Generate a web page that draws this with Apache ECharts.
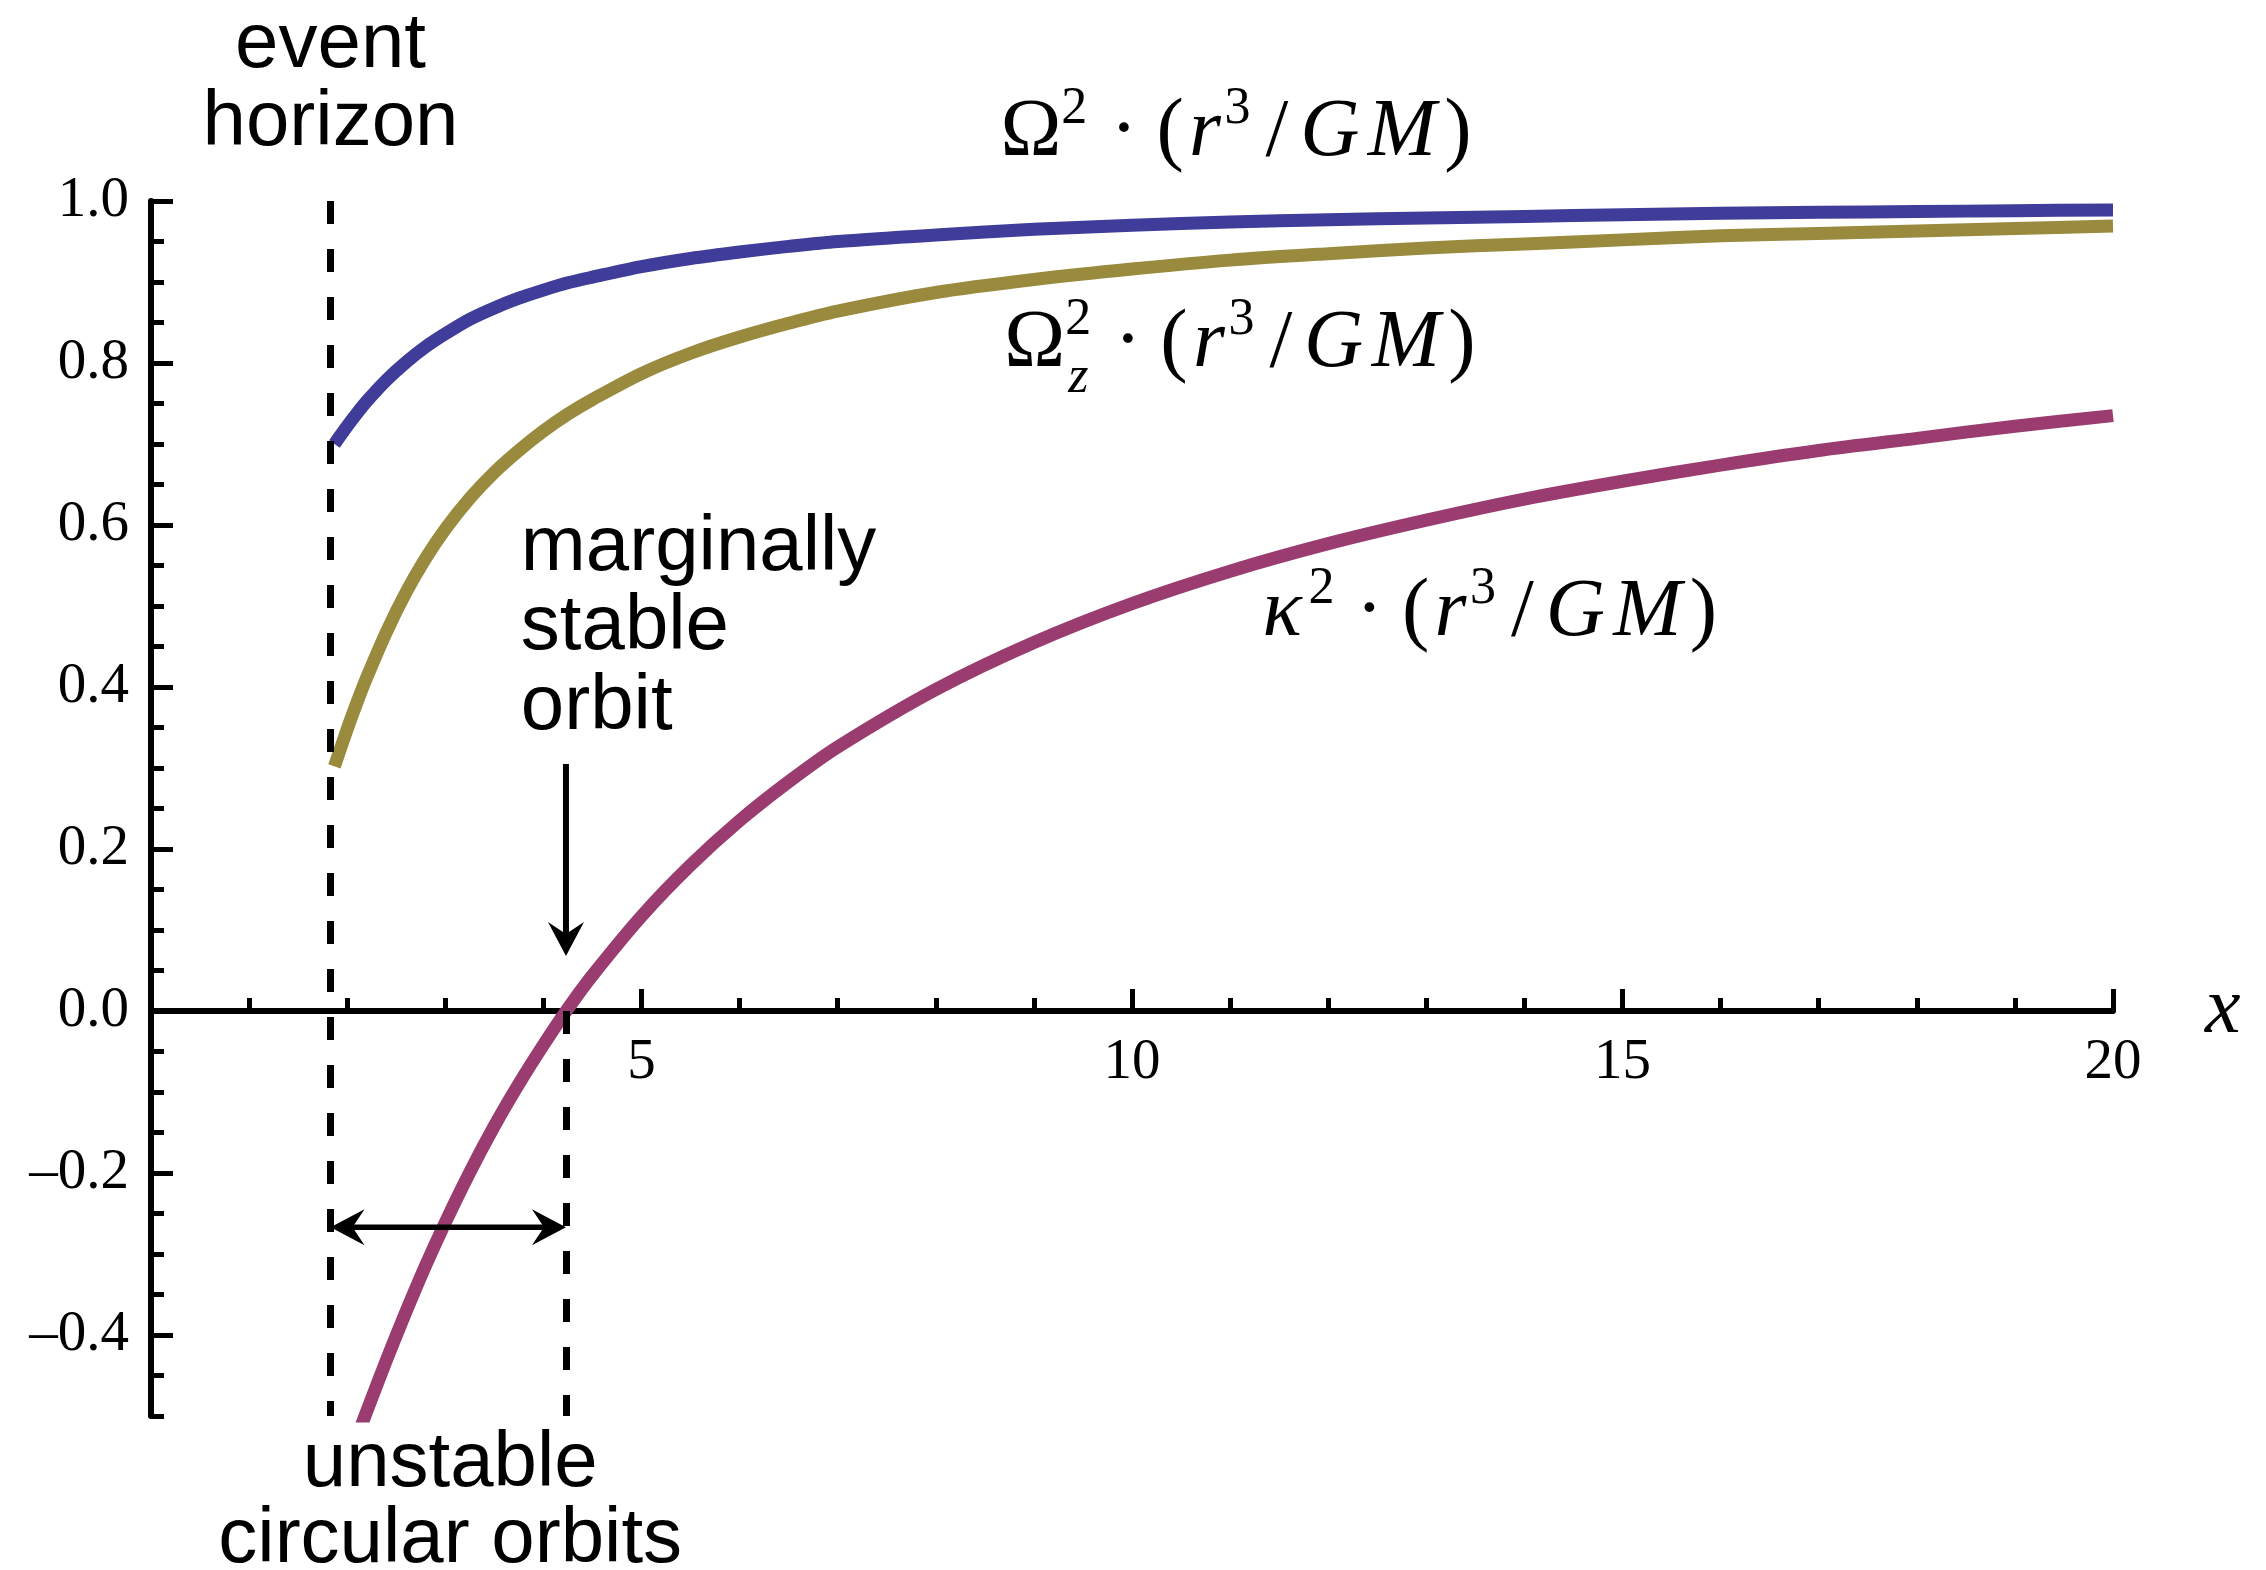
<!DOCTYPE html>
<html>
<head>
<meta charset="utf-8">
<script src="https://cdn.jsdelivr.net/npm/echarts@6/dist/echarts.min.js"></script>
<style>
  html, body { margin: 0; padding: 0; background: #ffffff; }
  #chart { width: 2266px; height: 1570px; }
</style>
</head>
<body>
<div id="chart"></div>
<script>
// Orbital frequencies around a rotating black hole, in units of GM/r^3, versus x = r/(GM/c^2)
const rOmega = [1.87, 2.0, 2.1, 2.2, 2.4, 2.6, 2.8, 3.0, 3.25, 3.5, 3.75, 4.0, 4.25, 4.5, 5, 5.5, 6, 6.5, 7, 8, 9, 10, 11, 12, 13, 14, 15, 16, 17, 18, 19, 20];
const omega2 = [0.700, 0.722, 0.738, 0.753, 0.779, 0.801, 0.820, 0.836, 0.854, 0.868, 0.880, 0.890, 0.899, 0.906, 0.919, 0.929, 0.937, 0.944, 0.950, 0.958, 0.965, 0.970, 0.974, 0.977, 0.979, 0.981, 0.983, 0.985, 0.986, 0.987, 0.988, 0.989];
const omegaZ2 = [0.302, 0.348, 0.381, 0.412, 0.468, 0.517, 0.559, 0.595, 0.633, 0.665, 0.692, 0.716, 0.737, 0.755, 0.787, 0.812, 0.832, 0.849, 0.864, 0.887, 0.903, 0.916, 0.927, 0.935, 0.942, 0.947, 0.952, 0.957, 0.960, 0.963, 0.966, 0.969];
const rKappa = [2.1, 2.2, 2.4, 2.6, 2.8, 3.0, 3.25, 3.5, 3.75, 4.0, 4.25, 4.5, 5, 5.5, 6, 6.5, 7, 8, 9, 10, 11, 12, 13, 14, 15, 16, 17, 18, 19, 20];
const kappa2 = [-0.526, -0.494, -0.431, -0.371, -0.314, -0.261, -0.199, -0.142, -0.090, -0.042, 0.003, 0.044, 0.117, 0.180, 0.235, 0.283, 0.326, 0.397, 0.455, 0.503, 0.543, 0.577, 0.606, 0.632, 0.654, 0.674, 0.692, 0.707, 0.722, 0.735];

// Axis ranges and ticks
const xRange = [0, 20];
const yRange = [-0.5, 1.0];
const yMajorTicks = [-0.4, -0.2, 0.0, 0.2, 0.4, 0.6, 0.8, 1.0];
const yMinorTicks = [-0.5, -0.45, -0.4, -0.35, -0.3, -0.25, -0.2, -0.15, -0.1, -0.05, 0, 0.05, 0.1, 0.15, 0.2, 0.25, 0.3, 0.35, 0.4, 0.45, 0.5, 0.55, 0.6, 0.65, 0.7, 0.75, 0.8, 0.85, 0.9, 0.95, 1.0];

// Special radii
const rHorizon = 1.83;
const rMarginal = 4.23;
const unstableArrowLevel = -0.267;
const marginalArrowTop = 0.305;
const marginalArrowTip = 0.068;

const COLORS = { omega: '#403C99', omegaZ: '#998A3E', kappa: '#9A3C6F' };
const SERIF = '"Liberation Serif", "Times New Roman", serif';
const SANS = '"Liberation Sans", Arial, Helvetica, sans-serif';

const GRID = { left: 151, top: 201, right: 153, bottom: 154 };
const gridHeight = 1570 - GRID.top - GRID.bottom;
// shift the x axis up so that it runs along y = 0
const xAxisOffset = -gridHeight * (0 - yRange[0]) / (yRange[1] - yRange[0]);

const pairs = (xs, ys) => ys.map((v, i) => [xs[i], v]);
const fmtTick = v => (v < 0 ? '\u2013' : '') + Math.abs(v).toFixed(1);

const chart = echarts.init(document.getElementById('chart'), null, { renderer: 'canvas' });

const curveLine = (color) => ({ width: 13, color: color, cap: 'butt', join: 'round' });

chart.setOption({
  animation: false,
  backgroundColor: '#ffffff',
  grid: Object.assign({ containLabel: false, outerBoundsMode: 'none' }, GRID),
  xAxis: {
    type: 'value', min: xRange[0], max: xRange[1], interval: 5,
    position: 'bottom', offset: xAxisOffset,
    axisLine: { show: true, onZero: false, lineStyle: { color: '#000', width: 6 } },
    axisTick: { show: true, inside: true, length: 22, lineStyle: { color: '#000', width: 5 } },
    minorTick: { show: true, splitNumber: 5, length: 13, lineStyle: { color: '#000', width: 5 } },
    splitLine: { show: false },
    axisLabel: { showMinLabel: false, margin: 24, color: '#000', fontFamily: SERIF, fontSize: 57 },
    name: 'x', nameLocation: 'end', nameGap: 92,
    nameTextStyle: { color: '#000', fontFamily: SERIF, fontStyle: 'italic', fontSize: 80, align: 'left', verticalAlign: 'middle' }
  },
  yAxis: [
    {
      type: 'value', min: yRange[0], max: yRange[1], position: 'left',
      axisLine: { show: true, onZero: false, lineStyle: { color: '#000', width: 6 } },
      axisTick: { show: true, inside: true, length: 22, customValues: yMajorTicks, lineStyle: { color: '#000', width: 5 } },
      splitLine: { show: false },
      axisLabel: { customValues: yMajorTicks, margin: 22, color: '#000', fontFamily: SERIF, fontSize: 57, formatter: fmtTick }
    },
    {
      type: 'value', min: yRange[0], max: yRange[1], position: 'left', offset: 0,
      axisLine: { show: false, onZero: false },
      axisTick: { show: true, inside: true, length: 13, customValues: yMinorTicks, lineStyle: { color: '#000', width: 5 } },
      splitLine: { show: false },
      axisLabel: { show: false }
    }
  ],
  series: [
    {
      name: 'Omega2', type: 'line', data: pairs(rOmega, omega2), symbol: 'none', showSymbol: false,
      smooth: 0.3, clip: true, lineStyle: curveLine(COLORS.omega), z: 3
    },
    {
      name: 'OmegaZ2', type: 'line', data: pairs(rOmega, omegaZ2), symbol: 'none', showSymbol: false,
      smooth: 0.3, clip: true, lineStyle: curveLine(COLORS.omegaZ), z: 3
    },
    {
      name: 'kappa2', type: 'line', data: pairs(rKappa, kappa2), symbol: 'none', showSymbol: false,
      smooth: 0.3, clip: true, lineStyle: curveLine(COLORS.kappa), z: 3
    },
    {
      name: 'radii', type: 'line', data: [], z: 6,
      markLine: {
        silent: true, symbol: ['none', 'none'], label: { show: false },
        lineStyle: { color: '#000', width: 7, type: [23, 25] },
        emphasis: { disabled: true },
        data: [
          [{ coord: [rHorizon, 1.0] }, { coord: [rHorizon, -0.5] }],
          [{ coord: [rMarginal, 0] }, { coord: [rMarginal, -0.5] }]
        ]
      }
    }
  ]
});

// ---- annotations, anchored in data coordinates ----
const px = (x, y) => chart.convertToPixel({ gridIndex: 0 }, [x, y]);
const MID = 0.34; // distance from em-box middle to alphabetic baseline, in em

function textAt(str, p, opts) {
  const fs = opts.size;
  return {
    type: 'text', silent: true, z: 20,
    style: {
      text: str, x: p[0], y: p[1] - MID * fs,
      font: (opts.italic ? 'italic ' : '') + fs + 'px ' + (opts.family || SANS),
      fill: '#000', align: opts.align || 'left', verticalAlign: 'middle'
    }
  };
}

// Lay out a small formula from pieces with TeX-like advance widths (em)
function formula(pieces, p, fs) {
  const els = [];
  let x = p[0];
  pieces.forEach(pc => {
    const w = pc.adv * fs;
    const size = pc.script ? Math.round(fs * 0.64) : fs;
    const shift = pc.script === 'sup' ? -0.42 * fs : (pc.script === 'sub' ? 0.28 * fs : 0);
    els.push(textAt(pc.t, [x + w / 2 + (pc.dx || 0) * fs, p[1] + shift], { size: size, italic: pc.it, family: SERIF, align: 'center' }));
    if (!pc.stack) x += w;
  });
  return els;
}

const tail = [
  { t: '\u00B7', adv: 0.73 },
  { t: '(', adv: 0.395 },
  { t: 'r', adv: 0.455, it: true },
  { t: '3', adv: 0.40, script: 'sup', dx: -0.03 },
  { t: '/', adv: 0.5 },
  { t: 'G', adv: 0.79, it: true },
  { t: 'M', adv: 0.97, it: true },
  { t: ')', adv: 0.395 }
];
const labelOmega = [{ t: '\u03A9', adv: 0.74 }, { t: '2', adv: 0.40, script: 'sup', dx: -0.04 }].concat(tail);
const labelOmegaZ = [{ t: '\u03A9', adv: 0.74 }, { t: 'z', adv: 0.40, script: 'sub', it: true, stack: true, dx: -0.04 }, { t: '2', adv: 0.40, script: 'sup', dx: -0.04 }].concat(tail);
const labelKappa = [{ t: '\u03BA', adv: 0.6, it: true }, { t: '2', adv: 0.40, script: 'sup', dx: -0.02 }].concat(tail);

function arrowHead(tip, dir) {
  // dir: unit vector pointing toward the tip
  const L = 34, N = 22, H = 18;
  const nx = -dir[1], ny = dir[0];
  const back = [tip[0] - dir[0] * L, tip[1] - dir[1] * L];
  const notch = [tip[0] - dir[0] * N, tip[1] - dir[1] * N];
  return {
    type: 'polygon', silent: true, z: 21,
    shape: { points: [tip, [back[0] + nx * H, back[1] + ny * H], notch, [back[0] - nx * H, back[1] - ny * H]] },
    style: { fill: '#000' }
  };
}

function drawAnnotations() {
  const els = [];
  // event horizon
  els.push(textAt('event', px(rHorizon, 1.159), { size: 78, align: 'center' }));
  els.push(textAt('horizon', px(rHorizon, 1.063), { size: 78, align: 'center' }));
  // marginally stable orbit
  els.push(textAt('marginally', px(3.77, 0.538), { size: 78 }));
  els.push(textAt('stable', px(3.77, 0.441), { size: 78 }));
  els.push(textAt('orbit', px(3.77, 0.342), { size: 78 }));
  // unstable circular orbits
  els.push(textAt('unstable', px(3.05, -0.592), { size: 78, align: 'center' }));
  els.push(textAt('circular orbits', px(3.05, -0.686), { size: 78, align: 'center' }));
  // formulas
  formula(labelOmega, px(8.66, 1.049), 82).forEach(e => els.push(e));
  formula(labelOmegaZ, px(8.70, 0.788), 82).forEach(e => els.push(e));
  formula(labelKappa, px(11.28, 0.456), 82).forEach(e => els.push(e));

  // arrow pointing at the marginally stable orbit
  const a0 = px(rMarginal, marginalArrowTop), a1 = px(rMarginal, marginalArrowTip);
  els.push({ type: 'line', silent: true, z: 21, shape: { x1: a0[0], y1: a0[1], x2: a1[0], y2: a1[1] - 20 }, style: { stroke: '#000', lineWidth: 6 } });
  els.push(arrowHead(a1, [0, 1]));

  // double arrow spanning the unstable region
  const b0 = px(rHorizon, unstableArrowLevel), b1 = px(rMarginal, unstableArrowLevel);
  els.push({ type: 'line', silent: true, z: 21, shape: { x1: b0[0] + 20, y1: b0[1], x2: b1[0] - 20, y2: b1[1] }, style: { stroke: '#000', lineWidth: 5.5 } });
  els.push(arrowHead(b0, [-1, 0]));
  els.push(arrowHead(b1, [1, 0]));

  chart.setOption({ graphic: { elements: els } });
}
drawAnnotations();
</script>
</body>
</html>
